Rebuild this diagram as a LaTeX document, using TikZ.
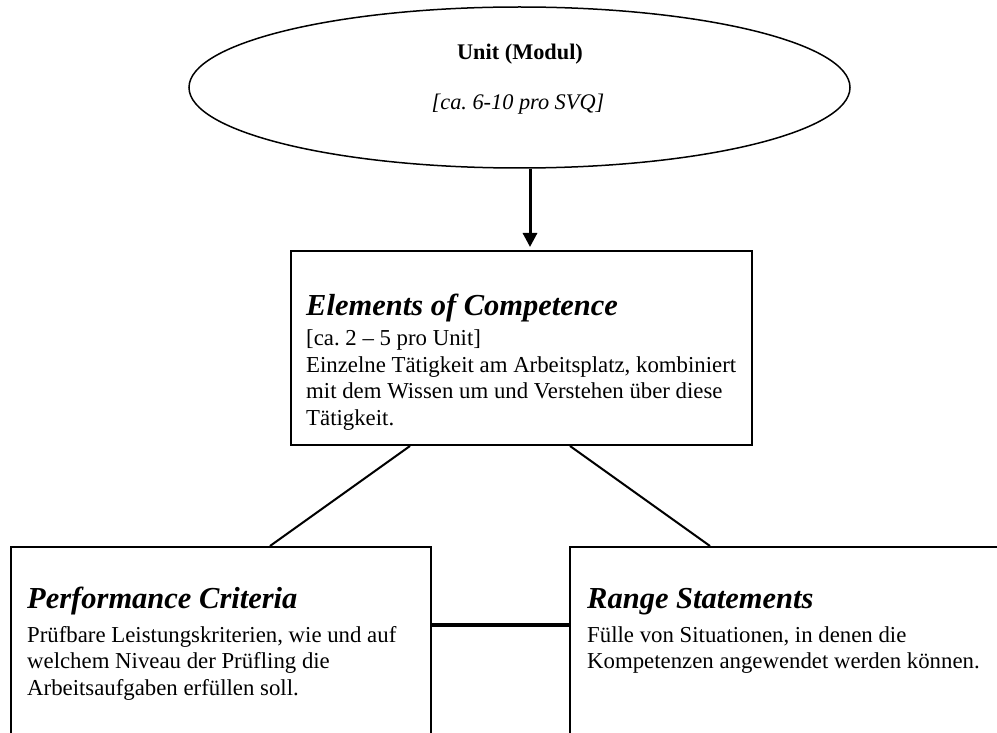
\documentclass[tikz,border=0pt]{standalone}
\usepackage{fontspec}
\setmainfont{Liberation Serif}
\usetikzlibrary{shapes.geometric,arrows.meta}
\frenchspacing
\begin{document}
\begin{tikzpicture}[x=1pt,y=-1pt,
  box/.style={draw,line width=2pt,rectangle,inner sep=0pt,anchor=north west},
  oval/.style={draw,ellipse,line width=1.5pt,inner sep=0pt},
  txt/.style={anchor=base west,inner sep=0pt,font=\fontsize{22.8}{26.7}\selectfont},
  ttl/.style={anchor=base west,inner sep=0pt,font=\fontsize{30.5}{36}\selectfont\bfseries\itshape},
  otxt/.style={anchor=base,inner sep=0pt,font=\fontsize{22.3}{26}\selectfont},
  conn/.style={line width=2pt}
]
\useasboundingbox (0,0) rectangle (997,733);
\clip (0,0) rectangle (997,733);

% shapes
\node[oval,minimum width=661pt,minimum height=161pt] (unit) at (519.5,87.5) {};
\node[box,minimum width=461pt,minimum height=194pt] (elem) at (290,250) {};
\node[box,minimum width=420pt,minimum height=260pt] (perf) at (10,546) {};
\node[box,minimum width=480pt,minimum height=260pt] (range) at (569,546) {};

% ellipse text
\node[otxt,font=\fontsize{22.3}{26}\selectfont\bfseries] (unitT) at (520,60) {Unit (Modul)};
\node[otxt,font=\fontsize{22.3}{26}\selectfont\itshape] (unitS) at (518,110) {[ca. 6-10 pro SVQ]};

% elements text
\node[ttl] (elemT) at (306,315) {Elements of Competence};
\node[txt] (elemL1) at (306,345) {[ca. 2 – 5 pro Unit]};
\node[txt] (elemL2) at (306,372) {Einzelne Tätigkeit am Arbeitsplatz, kombiniert};
\node[txt] (elemL3) at (306,398) {mit dem Wissen um und Verstehen über diese};
\node[txt] (elemL4) at (306,425) {Tätigkeit.};

% performance text
\node[ttl] (perfT) at (27,608) {Performance Criteria};
\node[txt] (perfL1) at (27,642) {Prüfbare Leistungskriterien, wie und auf};
\node[txt] (perfL2) at (27,668) {welchem Niveau der Prüfling die};
\node[txt] (perfL3) at (27,695) {Arbeitsaufgaben erfüllen soll.};

% range text
\node[ttl] (rangeT) at (587,608) {Range Statements};
\node[txt] (rangeL1) at (587,642) {Fülle von Situationen, in denen die};
\node[txt] (rangeL2) at (587,668) {Kompetenzen angewendet werden können.};

% connectors
\coordinate (ax) at (530,0);
\draw[line width=3pt,shorten >=3pt,-{Triangle[width=14pt,length=14pt]}] (unit.south -| ax) -- (elem.north -| ax);
\draw[conn] ([xshift=120pt]elem.south west) -- ([xshift=260pt]perf.north west);
\draw[conn] ([xshift=280pt]elem.south west) -- ([xshift=141pt]range.north west);
\draw[line width=3.3pt] ([yshift=-79pt]perf.north east) -- ([yshift=-79pt]range.north west);
\end{tikzpicture}
\end{document}
